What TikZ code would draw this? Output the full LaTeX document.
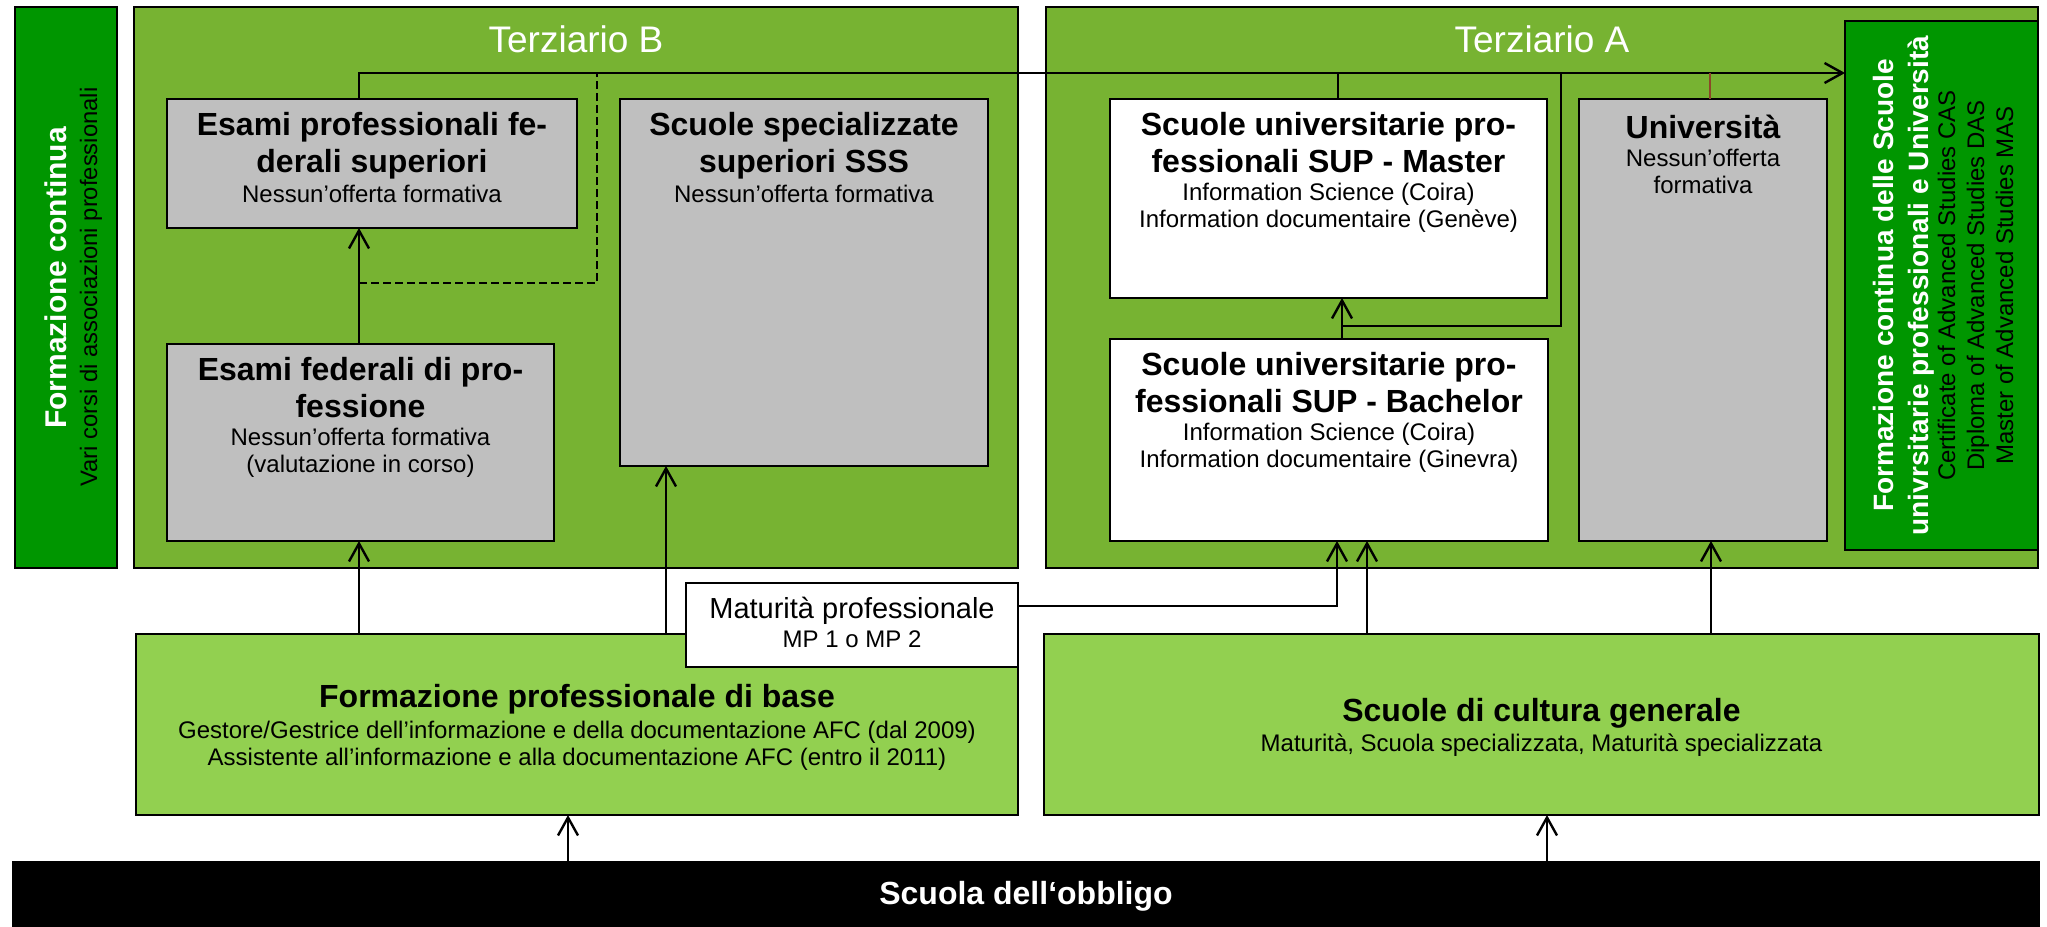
\documentclass[tikz,border=0pt]{standalone}
\usepackage{fontspec}
\setmainfont{Liberation Sans}
\usetikzlibrary{positioning,arrows.meta}

\definecolor{verdescuro}{RGB}{0,150,0}
\definecolor{verde}{RGB}{119,179,50}
\definecolor{verdechiaro}{RGB}{146,208,80}
\definecolor{grigio}{RGB}{191,191,191}
\definecolor{marrone}{RGB}{140,70,40}

\tikzset{
  scatola/.style={draw=black, line width=1.2pt, inner sep=0pt, outer sep=0pt},
  titolo/.style={font=\fontsize{16}{18.5}\selectfont\bfseries, align=center, inner sep=0pt, outer sep=0pt,
    execute at begin node=\strut, execute at end node=\strut},
  sottotitolo/.style={font=\fontsize{12}{13.5}\selectfont, align=center, inner sep=0pt, outer sep=0pt,
    execute at begin node=\strut, execute at end node=\strut},
  etichetta/.style={font=\fontsize{18.5}{20}\selectfont, text=white, anchor=base},
  verticale/.style={rotate=90, anchor=base},
  linea/.style={line width=1.2pt},
}

\begin{document}
\begin{tikzpicture}[x=0.5pt, y=-0.5pt, >={Straight Barb[length=9pt,width=10pt]}]
    \useasboundingbox (0,0) rectangle (2047,927);

    % Riquadri grandi
    \node[scatola, fill=verdescuro, minimum width=51pt, minimum height=280.5pt] (fc) at (66,287.5) {};
    \node[scatola, fill=verde, minimum width=442pt, minimum height=280.5pt] (terzb) at (576,287.5) {};
    \node[scatola, fill=verde, minimum width=496pt, minimum height=280.5pt] (terza) at (1542,287.5) {};
    \node[etichetta] (terzb-t) at (576,52) {Terziario B};
    \node[etichetta] (terza-t) at (1542,52) {Terziario A};

    % Formazione continua (sinistra)
    \node[verticale, font=\fontsize{15}{17}\selectfont\bfseries, text=white] (fc-t) at (66,278) {Formazione continua};
    \node[verticale, font=\fontsize{11.9}{14}\selectfont] (fc-s) at (97,287) {Vari corsi di associazioni professionali};

    % Terziario B
    \node[scatola, fill=grigio, minimum width=205pt, minimum height=64.5pt] (esp) at (372,163.5) {};
    \node[titolo, below=6.55pt of esp.north] (esp-t) {Esami professionali fe-\\derali superiori};
    \node[sottotitolo, below=0pt of esp-t] (esp-s) {Nessun’offerta formativa};

    \node[scatola, fill=grigio, minimum width=193.5pt, minimum height=98.5pt] (efp) at (360.5,442.5) {};
    \node[titolo, below=6.55pt of efp.north] (efp-t) {Esami federali di pro-\\fessione};
    \node[sottotitolo, below=0pt of efp-t] (efp-s) {Nessun’offerta formativa\\(valutazione in corso)};

    \node[scatola, fill=grigio, minimum width=184pt, minimum height=183.5pt] (sss) at (804,282.5) {};
    \node[titolo, below=6.55pt of sss.north] (sss-t) {Scuole specializzate\\superiori SSS};
    \node[sottotitolo, below=0pt of sss-t] (sss-s) {Nessun’offerta formativa};

    % Terziario A
    \node[scatola, fill=white, minimum width=218.5pt, minimum height=99.5pt] (supm) at (1328.5,198.5) {};
    \node[titolo, below=6.55pt of supm.north] (supm-t) {Scuole universitarie pro-\\fessionali SUP - Master};
    \node[sottotitolo, below=0pt of supm-t] (supm-s) {Information Science (Coira)\\Information documentaire (Genève)};

    \node[scatola, fill=white, minimum width=219pt, minimum height=101pt] (supb) at (1329,440) {};
    \node[titolo, below=6.55pt of supb.north] (supb-t) {Scuole universitarie pro-\\fessionali SUP - Bachelor};
    \node[sottotitolo, below=0pt of supb-t] (supb-s) {Information Science (Coira)\\Information documentaire (Ginevra)};

    \node[scatola, fill=grigio, minimum width=124pt, minimum height=221pt] (uni) at (1703,320) {};
    \node[titolo, below=6.55pt of uni.north] (uni-t) {Università};
    \node[sottotitolo, below=0pt of uni-t] (uni-s) {Nessun’offerta\\formativa};

    % Formazione continua (destra)
    \node[scatola, fill=verdescuro, minimum width=96.5pt, minimum height=264.5pt] (fcu) at (1941.5,285.5) {};
    \node[verticale, font=\fontsize{14}{16}\selectfont\bfseries, text=white] (fcu-1) at (1893,285.5) {Formazione continua delle Scuole};
    \node[verticale, font=\fontsize{14}{16}\selectfont\bfseries, text=white] (fcu-2) at (1928,285.5) {univrsitarie professionali e Università};
    \node[verticale, font=\fontsize{12}{14}\selectfont] (fcu-3) at (1955,285.5) {Certificate of Advanced Studies CAS};
    \node[verticale, font=\fontsize{12}{14}\selectfont] (fcu-4) at (1984,285.5) {Diploma of Advanced Studies DAS};
    \node[verticale, font=\fontsize{12}{14}\selectfont] (fcu-5) at (2013,285.5) {Master of Advanced Studies MAS};

    % Secondario
    \node[scatola, fill=verdechiaro, minimum width=441pt, minimum height=90.5pt] (fpb) at (577,724.5) {};
    \node[titolo, below=24pt of fpb.north] (fpb-t) {Formazione professionale di base};
    \node[sottotitolo, below=1pt of fpb-t] (fpb-s) {Gestore/Gestrice dell’informazione e della documentazione AFC (dal 2009)\\Assistente all’informazione e alla documentazione AFC (entro il 2011)};

    \node[scatola, fill=verdechiaro, minimum width=497.5pt, minimum height=90.5pt] (scg) at (1541.5,724.5) {};
    \node[titolo, below=30.8pt of scg.north] (scg-t) {Scuole di cultura generale};
    \node[sottotitolo, below=0pt of scg-t] (scg-s) {Maturità, Scuola specializzata, Maturità specializzata};

    \node[scatola, fill=white, minimum width=166pt, minimum height=42pt] (mat) at (852,625) {};
    \node[titolo, font=\fontsize{14.5}{17}\selectfont, below=5.6pt of mat.north] (mat-t) {Maturità professionale};
    \node[sottotitolo, below=0pt of mat-t] (mat-s) {MP 1 o MP 2};

    % Scuola dell'obbligo
    \node[scatola, fill=black, text=white, font=\fontsize{16}{18}\selectfont\bfseries,
      minimum width=1013pt, minimum height=34pt] (obb) at (1026,896) {Scuola dell‘obbligo};

    % Punti di raccordo
    \coordinate (ingresso) at (1845,73);
    \coordinate (tratt) at (359,283);
    \coordinate (bivio) at (1342,326);

    % Linee verso la formazione continua
    \draw[linea, ->] (esp.north -| tratt) |- (ingresso);
    \draw[linea, dash pattern=on 4pt off 2pt] (tratt) -| (ingresso -| 597,0);
    \draw[linea] (supm.north -| 1338,0) -- (ingresso -| 1338,0);
    \draw[linea, marrone] (uni.north -| 1710,0) -- (ingresso -| 1710,0);
    \draw[linea] (bivio) -| (ingresso -| 1561,0);

    % Frecce
    \draw[linea, ->] (efp.north -| tratt) -- (esp.south -| tratt);
    \draw[linea, ->] (fpb.north -| tratt) -- (efp.south -| tratt);
    \draw[linea, ->] (fpb.north -| 666,0) -- (sss.south -| 666,0);
    \draw[linea, ->] (supb.north -| bivio) -- (supm.south -| bivio);
    \draw[linea, ->] ([yshift=9.5pt]mat.east) -| (supb.south -| 1337,0);
    \draw[linea, ->] (scg.north -| 1367,0) -- (supb.south -| 1367,0);
    \draw[linea, ->] (scg.north -| 1711,0) -- (uni.south -| 1711,0);
    \draw[linea, ->] (obb.north -| 568,0) -- (fpb.south -| 568,0);
    \draw[linea, ->] (obb.north -| 1547,0) -- (scg.south -| 1547,0);
\end{tikzpicture}
\end{document}
